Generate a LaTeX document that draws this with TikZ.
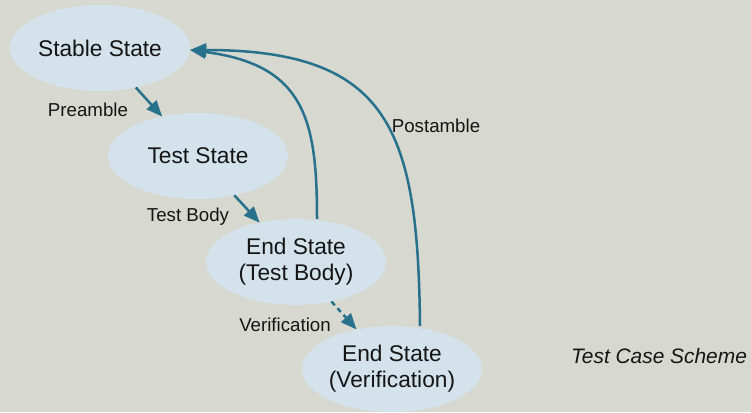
\documentclass[tikz,border=0pt]{standalone}
\usepackage{fontspec}
\setmainfont{Liberation Sans}
\usetikzlibrary{shapes.geometric,arrows.meta}
\definecolor{bgc}{HTML}{D7D8D0}
\definecolor{ellc}{HTML}{D3E2EB}
\definecolor{arrc}{HTML}{27718C}
\definecolor{txtc}{HTML}{151515}
\tikzset{
  state/.style={ellipse,fill=ellc,draw=none,minimum width=180pt,minimum height=86pt,inner sep=0pt,outer sep=0pt,align=center,text=txtc,font=\fontsize{22.7}{26}\selectfont},
  lbl/.style={text=txtc,font=\fontsize{18.7}{22}\selectfont,inner sep=0pt},
  conn/.style={draw=arrc,line width=2.5pt,-{Triangle[length=16pt,width=13pt]}},
}
\begin{document}
\begin{tikzpicture}[x=1pt,y=-1pt]
\fill[bgc] (0,0) rectangle (751,412);
\useasboundingbox (0,0) rectangle (751,412);
\node[state] (ss) at (100,48) {Stable State};
\node[state] (ts) at (198,156) {Test State};
\node[state] (es) at (296,262) {End State\\(Test Body)};
\node[state] (ev) at (392,369) {End State\\(Verification)};
\draw[conn] (ss) -- (ts);
\draw[conn] (ts) -- (es);
\draw[conn,dash pattern=on 5pt off 4pt] (es) -- (ev);
\coordinate (tip) at ([yshift=-2pt]ss.east);
\draw[conn] ([xshift=21pt]es.north) .. controls (317,120) and (305,65) .. (tip);
\draw[conn] ([xshift=28pt]ev.north) .. controls (418,130) and (390,50) .. (tip);
\node[lbl] (l1) at (88,110) {Preamble};
\node[lbl] (l2) at (188,217) {Test Body};
\node[lbl] (l3) at (285,325) {Verification};
\node[lbl] (l4) at (436,126) {Postamble};
\node[lbl,font=\fontsize{20.9}{24}\selectfont\itshape] (cap) at (659,356) {Test Case Scheme};
\end{tikzpicture}
\end{document}
